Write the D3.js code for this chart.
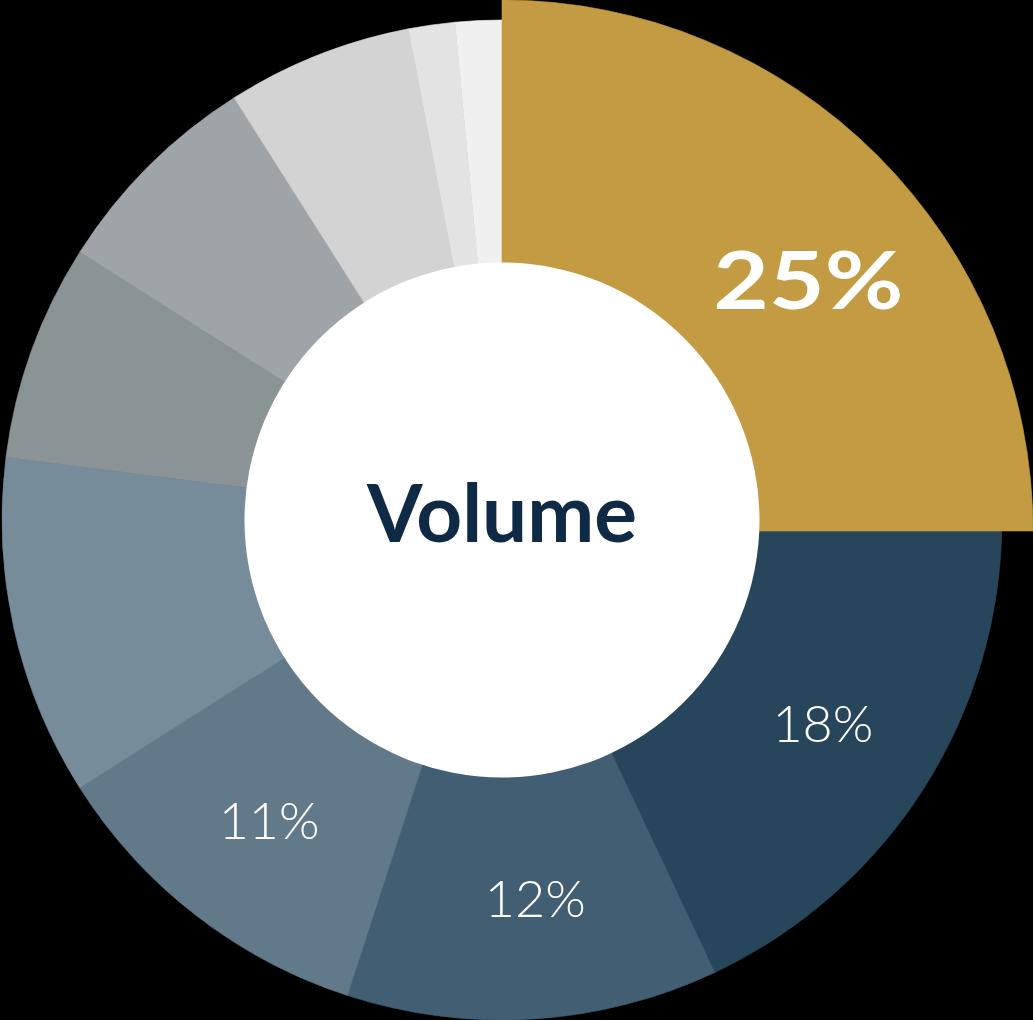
<!DOCTYPE html>
<html>
<head>
<meta charset="utf-8">
<script src="https://cdn.jsdelivr.net/npm/d3@7"></script>
<style>
  html, body { margin: 0; padding: 0; background: #000; }
  svg { display: block; }
</style>
</head>
<body>
<svg id="chart" width="1033" height="1020"></svg>
<script>
const segments = ["A", "B", "C", "D", "E", "F", "G", "H", "I", "J"];
const values = [25, 18, 12, 11, 11, 7, 7, 6, 1.5, 1.5];
const labels = ["25%", "18%", "12%", "11%", "", "", "", "", "", ""];
const colors = ["#c29b42", "#28465b", "#415e72", "#62798a", "#778c9a",
                "#8a9496", "#9ea4a8", "#d3d3d3", "#e3e3e3", "#f0f0f0"];
const centerTitle = "Volume";

const svg = d3.select("#chart");
const cx = 502, cy = 520;
const outerR = 500, holeR = 257.5;
const highlightR = 531, highlightShift = 11;

const pie = d3.pie().sort(null).value(d => d);
const arcs = pie(values);

const arc = d3.arc().innerRadius(0).outerRadius(outerR);
const arcHi = d3.arc().innerRadius(0).outerRadius(highlightR);

const g = svg.append("g").attr("transform", `translate(${cx},${cy})`);

// draw the others first, the highlighted slice last (on top)
const order = arcs.slice(1).concat([arcs[0]]);
g.selectAll("path.slice")
  .data(order)
  .join("path")
  .attr("class", "slice")
  .attr("d", d => d.index === 0 ? arcHi(d) : arc(d))
  .attr("transform", d => d.index === 0 ? `translate(0,${highlightShift})` : null)
  .attr("fill", d => colors[d.index])
  .attr("stroke", d => colors[d.index])
  .attr("stroke-width", 0.6)
  .attr("stroke-linejoin", "round");

g.append("circle").attr("r", holeR).attr("fill", "#fff");

g.append("text")
  .attr("x", 0).attr("y", 22)
  .attr("text-anchor", "middle")
  .attr("font-family", "Lato, 'Open Sans', sans-serif")
  .attr("font-weight", 700)
  .attr("font-size", 80)
  .attr("fill", "#0f2a45")
  .text(centerTitle);

const labelR = 380;
g.selectAll("text.lbl")
  .data(arcs.filter((d, i) => labels[i]))
  .join("text")
  .attr("class", "lbl")
  .attr("transform", (d) => {
    const i = d.index;
    let a = (d.startAngle + d.endAngle) / 2;
    let r = labelR, oy = 0;
    if (i === 0) { a = d.startAngle + (d.endAngle - d.startAngle) * 0.563; r = 396; oy = highlightShift; }
    if (i === 2) { a = d.startAngle + (d.endAngle - d.startAngle) * 0.467; }
    return `translate(${Math.sin(a) * r},${-Math.cos(a) * r + oy})`;
  })
  .attr("text-anchor", "middle")
  .attr("dy", "0.36em")
  .attr("font-family", "Lato, 'Open Sans', sans-serif")
  .attr("font-weight", d => d.index === 0 ? 700 : 300)
  .attr("font-size", d => d.index === 0 ? 80 : 52)
  .attr("textLength", d => d.index === 0 ? 190 : null)
  .attr("lengthAdjust", "spacingAndGlyphs")
  .attr("fill", "#fff")
  .text(d => labels[d.index]);
</script>
</body>
</html>
